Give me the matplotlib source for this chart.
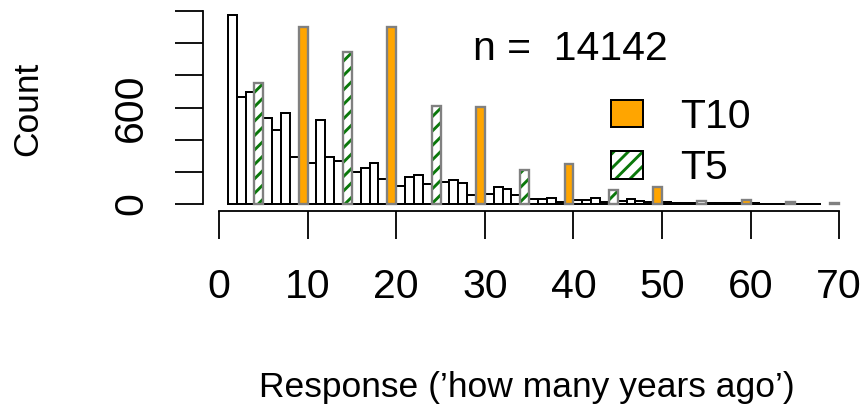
import numpy as np
import matplotlib
matplotlib.use("Agg")
import matplotlib.pyplot as plt
from matplotlib.patches import Patch
from matplotlib.legend_handler import HandlerTuple

plt.rcParams['font.family'] = ['Liberation Sans', 'DejaVu Sans']
plt.rcParams['hatch.linewidth'] = 1.6

# responses in whole years; bin for year v covers (v-1, v]
years = np.arange(2, 71)
counts = np.array([
    1175, 667, 699, 755, 537, 460, 565, 294, 1103,          # 2-10
    257, 525, 294, 267, 943, 201, 222, 257, 155, 1103,      # 11-20
    112, 168, 180, 122, 610, 135, 149, 133, 56, 601,        # 21-30
    64, 108, 93, 54, 210, 29, 29, 39, 14, 249,              # 31-40
    25, 25, 35, 14, 85, 19, 31, 20, 14, 108,                # 41-50
    10, 8, 7, 6, 19, 6, 5, 5, 4, 25,                        # 51-60
    4, 3, 3, 3, 12, 2, 2, 2, 0, 6,                          # 61-70
])
x_ticks = np.arange(0, 71, 10)
y_ticks = np.arange(0, 1201, 200)
y_labels = ['0', '', '', '600', '', '', '']

ORANGE = '#FFA500'
GREEN = '#0A780A'
GRAY = '#808080'

W, H, DPI = 867, 419, 130
fig = plt.figure(figsize=(W / DPI, H / DPI), dpi=DPI)

# pixel anchors of the plotting region
xlim = (-1.77, 72)
ylim = (-41.7, 1250)
px_per_x = 8.86
px_per_y = 193 / 1200
left_px = 219 + xlim[0] * px_per_x
right_px = 219 + xlim[1] * px_per_x
bottom_px = 204 - ylim[0] * px_per_y
top_px = 204 - ylim[1] * px_per_y
ax = fig.add_axes([left_px / W, 1 - bottom_px / H,
                   (right_px - left_px) / W, (bottom_px - top_px) / H])

t10 = (years % 10 == 0)
t5 = (years % 5 == 0) & ~t10
plain = ~(t10 | t5) & (counts > 0)

ax.bar(years[plain] - 1, counts[plain], width=1, align='edge',
       facecolor='white', edgecolor='black', linewidth=1.1)
ax.bar(years[t10] - 1, counts[t10], width=1, align='edge',
       facecolor=ORANGE, edgecolor=GRAY, linewidth=1.3)
ax.bar(years[t5] - 1, counts[t5], width=1, align='edge',
       facecolor='white', edgecolor=GREEN, hatch='///', linewidth=0)
ax.bar(years[t5] - 1, counts[t5], width=1, align='edge',
       facecolor='none', edgecolor=GRAY, linewidth=1.3)

ax.set_xlim(*xlim)
ax.set_ylim(*ylim)
for side in ('top', 'right'):
    ax.spines[side].set_visible(False)
for side in ('left', 'bottom'):
    ax.spines[side].set_linewidth(1.0)
ax.spines['bottom'].set_bounds(0, 70)
ax.spines['left'].set_bounds(0, 1200)

ax.set_xticks(x_ticks)
ax.set_xticklabels([str(v) for v in x_ticks])
ax.set_yticks(y_ticks)
ax.set_yticklabels(y_labels)
ax.tick_params(axis='both', direction='out', length=15.5, width=1.0,
               labelsize=22.7)
ax.tick_params(axis='x', pad=16)
ax.tick_params(axis='y', pad=14)
for lab in ax.get_yticklabels():
    lab.set_rotation(90)
    lab.set_va('center')

fig.text(28 / W, 1 - 109 / H, 'Count', rotation=90, ha='center',
         va='center', fontsize=19.6)
fig.text(527 / W, 1 - 397 / H, "Response (\u2019how many years ago\u2019)",
         ha='center', va='baseline', fontsize=19.6)
fig.text(473 / W, 1 - 60 / H, f"n =  {counts.sum()}", ha='left',
         va='baseline', fontsize=22.7)

h10 = Patch(facecolor=ORANGE, edgecolor='black', linewidth=1.1)
h5 = (Patch(facecolor='white', edgecolor=GREEN, hatch='///', linewidth=0),
      Patch(facecolor='none', edgecolor='black', linewidth=1.1))
fig.legend([h10, h5], ['T10', 'T5'], handler_map={tuple: HandlerTuple(pad=0)},
           loc='upper left', bbox_to_anchor=(611 / W, 1 - 98 / H),
           frameon=False, fontsize=22.7, handlelength=0.78,
           handleheight=0.66, handletextpad=0.9, labelspacing=0.32,
           borderpad=0, borderaxespad=0)

fig.savefig('out.png', dpi=DPI)
